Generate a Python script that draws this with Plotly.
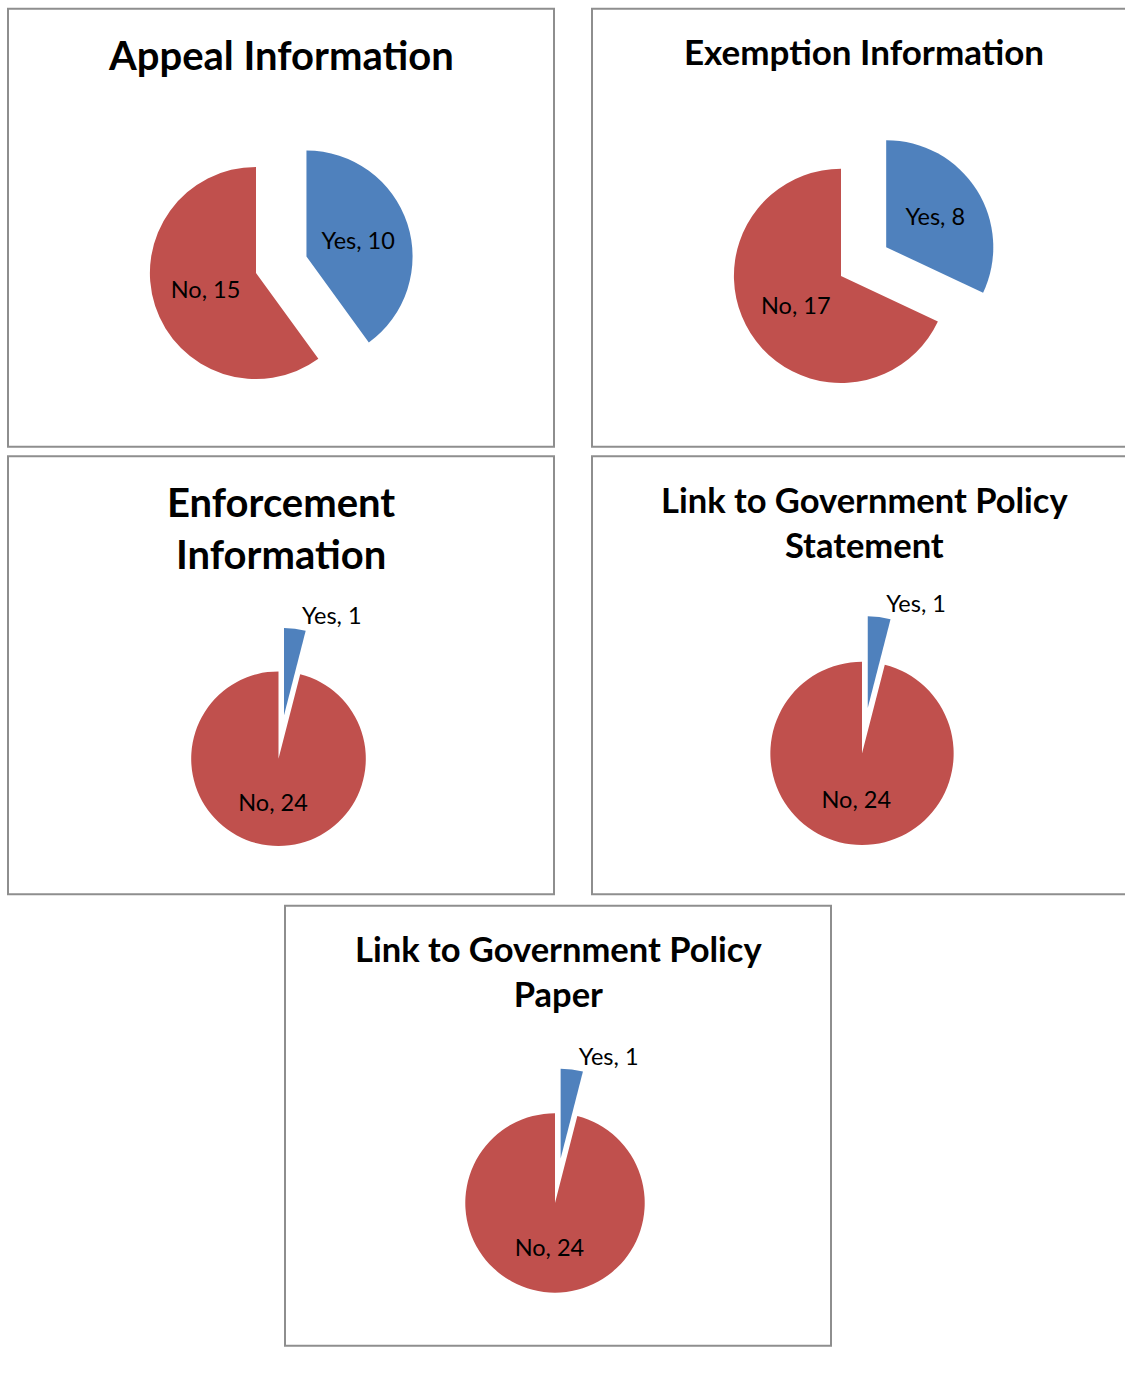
import plotly.graph_objects as go

W, H = 1125, 1387

# Data
titles = [
    "Appeal Information",
    "Exemption Information",
    "Enforcement<br>Information",
    "Link to Government Policy<br>Statement",
    "Link to Government Policy<br>Paper",
]
labels = ["Yes", "No"]
yes_values = [10, 8, 1, 1, 1]
no_values = [15, 17, 24, 24, 24]

colors = ["#4F81BD", "#C0504D"]
PULL = 0.5

boxes = [(8, 9, 554, 463), (592, 9, 1130, 463), (8, 473, 554, 927),
         (592, 473, 1130, 927), (285, 939, 831, 1395)]
centers = [(256, 283, 110), (841, 286, 111), (278.5, 786.5, 90.5),
           (862, 781, 95), (555, 1247, 93)]
title_pos = [(281, 57, 40), (864, 53, 35), (281, 547, 40), (864, 541, 34.5), (558, 1007, 34.5)]
LABEL_SIZE = 23.5

def fx(px):
    return min(max(px / W, 0), 1)

def fy(py):
    return min(max(1 - py / H, 0), 1)

fig = go.Figure()
for i in range(5):
    cx, cy, r = centers[i]
    half = r * (1 + PULL)
    small = yes_values[i] < 3
    fig.add_trace(go.Pie(
        labels=labels,
        values=[yes_values[i], no_values[i]],
        sort=False,
        direction="clockwise",
        rotation=0,
        pull=[PULL, 0],
        marker=dict(colors=colors, line=dict(width=0)),
        texttemplate="%{label}, %{value}",
        textposition=["outside" if small else "inside", "inside"],
        insidetextorientation="horizontal",
        insidetextfont=dict(color="black", size=LABEL_SIZE, family="Lato"),
        outsidetextfont=dict(color="black", size=LABEL_SIZE, family="Lato"),
        domain=dict(x=[fx(cx - half), fx(cx + half)], y=[fy(cy + half), fy(cy - half)]),
        showlegend=False,
        hoverinfo="skip",
    ))

shapes = []
for (x0, y0, x1, y1) in boxes:
    shapes.append(dict(type="rect", xref="paper", yref="paper",
                       x0=x0 / W, x1=x1 / W, y0=1 - y1 / H, y1=1 - y0 / H,
                       line=dict(color="#8E8E8E", width=2), fillcolor="rgba(0,0,0,0)"))

annotations = []
for i, t in enumerate(titles):
    tx, ty, ts = title_pos[i]
    annotations.append(dict(text="<b>" + t + "</b>", x=fx(tx), y=fy(ty), xref="paper", yref="paper",
                            xanchor="center", yanchor="middle", showarrow=False,
                            font=dict(family="Lato", size=ts, color="black")))

fig.update_layout(
    width=W, height=H, autosize=False,
    margin=dict(l=0, r=0, t=0, b=0),
    paper_bgcolor="white", plot_bgcolor="white",
    shapes=shapes, annotations=annotations,
    font=dict(family="Lato"),
)

fig.write_html("out.html", config={"responsive": False, "displayModeBar": False},
               post_script="document.body.style.margin='0';document.body.style.overflow='hidden';")
